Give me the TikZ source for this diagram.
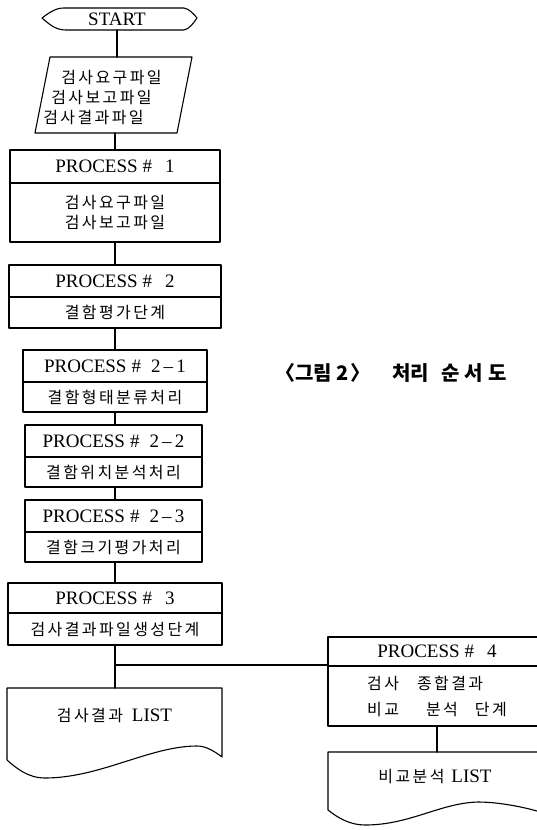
\documentclass[tikz,border=0pt]{standalone}
\usepackage{fontspec}
\setmainfont{Liberation Serif}
\newfontfamily\krfont[LetterSpace=15]{Noto Sans CJK KR}
\newfontfamily\krcapfont{Noto Sans CJK KR}
\newcommand\latsz{\fontsize{19}{21}\selectfont}
\newcommand\krsz{\krfont\fontsize{16}{20}\selectfont}
\newcommand\sharpsp{\hspace{5pt}\#\hspace{13pt}}
\newcommand\sharpspb{\hspace{5pt}\#\hspace{10pt}}
\tikzset{
  ln/.style={line width=1.1pt, line join=round, line cap=round},
  lat/.style={font=\latsz},
  kr/.style={font=\krsz},
  pbox/.style={draw, ln, rectangle, inner sep=0pt, outer sep=0pt},
  txt/.style={inner sep=0pt, outer sep=0pt},
}
\begin{document}
\begin{tikzpicture}[x=1pt,y=-1pt]
\useasboundingbox (0,0) rectangle (537,830);
\clip (0,0) rectangle (537,830);

% START terminator
\node[txt, lat, minimum width=155pt, minimum height=22pt] (start) at (117,19) {START};
\draw[ln] (42,18) .. controls (50,12) and (56,8) .. (64,8) -- (184,8)
  .. controls (189,9) and (193,13) .. (197,18)
  .. controls (193,24) and (189,29) .. (184,30) -- (66,30)
  .. controls (56,30) and (50,25) .. (42,18) -- cycle;

% input parallelogram
\draw[ln] (35,133) -- (50,57) -- (192,57) -- (177,133) -- cycle;
\node[txt, kr, align=left, minimum height=81pt] (par) at (102.5,97.5)
  {\hspace*{18pt}검사요구파일\\\hspace*{8pt}검사보고파일\\검사결과파일};
\coordinate (parbot) at (115,133);

% PROCESS 1
\node[pbox, lat, minimum width=210pt, minimum height=33pt] (p1h) at (115,166.5) {PROCESS\sharpsp 1};
\node[pbox, kr, align=center, minimum width=210pt, minimum height=59pt] (p1b) at (115,212.5) {검사요구파일\\검사보고파일};

% PROCESS 2
\node[pbox, lat, minimum width=212pt, minimum height=32pt] (p2h) at (115,281) {PROCESS\sharpsp 2};
\node[pbox, kr, minimum width=212pt, minimum height=31pt] (p2b) at (115,312.5) {결함평가단계};

% PROCESS 2-1
\node[pbox, lat, minimum width=184pt, minimum height=32pt] (p21h) at (115,366) {PROCESS\sharpspb 2\,--\,1};
\node[pbox, kr, minimum width=184pt, minimum height=30pt] (p21b) at (115,397) {결함형태분류처리};

% PROCESS 2-2
\node[pbox, lat, minimum width=177pt, minimum height=32pt] (p22h) at (113.5,441) {PROCESS\sharpspb 2\,--\,2};
\node[pbox, kr, minimum width=177pt, minimum height=30pt] (p22b) at (113.5,472) {결함위치분석처리};

% PROCESS 2-3
\node[pbox, lat, minimum width=177pt, minimum height=32pt] (p23h) at (113.5,516) {PROCESS\sharpspb 2\,--\,3};
\node[pbox, kr, minimum width=177pt, minimum height=30pt] (p23b) at (113.5,547) {결함크기평가처리};

% PROCESS 3
\node[pbox, lat, minimum width=214pt, minimum height=30pt] (p3h) at (115,598) {PROCESS\sharpsp 3};
\node[pbox, kr, minimum width=214pt, minimum height=32pt] (p3b) at (115,629) {검사결과파일생성단계};

% document 1
\node[txt, lat, minimum width=215pt, minimum height=54pt] (d1) at (114.5,715) {{\krsz 검사결과}\hspace{9pt}LIST};
\draw[ln] (7,760) -- (7,688) -- (222,688) -- (222,757)
  .. controls (214,751) and (206,746) .. (197,746)
  .. controls (150,746) and (100,778) .. (45,778)
  .. controls (28,778) and (16,768) .. (7,760) -- cycle;

% PROCESS 4
\node[pbox, lat, minimum width=218pt, minimum height=29pt] (p4h) at (437,651.5) {PROCESS\sharpsp 4};
\node[pbox, kr, align=left, minimum width=218pt, minimum height=60pt] (p4b) at (437,696)
  {검사\hspace{18pt}종합결과\\[6pt]비교\hspace{27pt}분석\hspace{17pt}단계};

% document 2
\node[txt, lat, minimum width=218pt, minimum height=50pt] (d2) at (435,777) {{\krsz 비교분석}\hspace{7pt}LIST};
\draw[ln] (328,810) -- (328,752) -- (546,752) -- (546,814)
  .. controls (530,808) and (500,802) .. (478,802)
  .. controls (440,803) and (410,825) .. (365,825)
  .. controls (350,825) and (338,818) .. (328,810) -- cycle;

% caption
\node[txt, font=\krcapfont\bfseries\fontsize{20}{22}\selectfont] (cap) at (391,373)
  {〈그림\hspace{4pt}2\hspace{2pt}〉\hspace{22pt}처리\hspace{12pt}순\hspace{5pt}서\hspace{5pt}도};

% connectors
\draw[ln] (start.south) -- (start.south |- par.north);
\draw[ln] (parbot) -- (p1h.north);
\draw[ln] (p1b.south) -- (p2h.north);
\draw[ln] (p2b.south) -- (p21h.north);
\draw[ln] (p21b.south) -- (p21b.south |- p22h.north);
\draw[ln] (p21b.south |- p22b.south) -- (p21b.south |- p23h.north);
\draw[ln] (p21b.south |- p23b.south) -- (p3h.north);
\draw[ln] (p3b.south) -- (p3b.south |- d1.north);
\coordinate (br) at (115,665);
\draw[ln] (br) -- (br -| p4b.west);
\draw[ln] (p4b.south) -- (p4b.south |- d2.north);
\end{tikzpicture}
\end{document}
